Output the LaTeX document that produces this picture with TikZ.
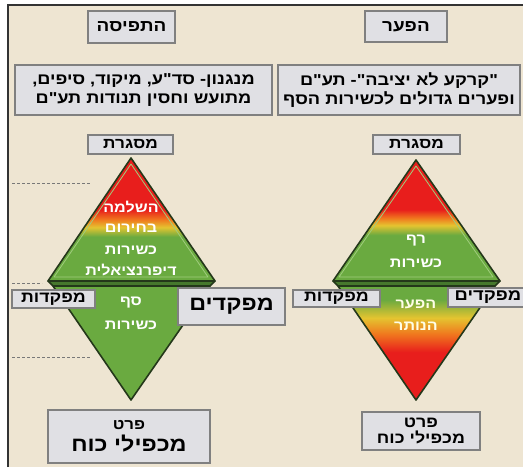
\documentclass[tikz,border=0pt]{standalone}
\usepackage{fontspec}
\newfontfamily\heb[Script=Hebrew,FakeStretch=1.15]{Liberation Sans}
\TeXXeTstate=1
\newcommand\rl[1]{\beginR#1\endR}
\newcommand\fs[1]{\fontsize{#1}{#1}\selectfont}
\definecolor{bg}{RGB}{238,229,210}
\definecolor{boxfill}{RGB}{224,224,228}
\definecolor{boxline}{RGB}{128,128,128}
\definecolor{rd}{RGB}{232,30,28}
\definecolor{orr}{RGB}{240,120,30}
\definecolor{ye}{RGB}{228,196,48}
\definecolor{gr}{RGB}{106,170,64}
\definecolor{grdark}{RGB}{70,120,45}
\definecolor{edge}{RGB}{36,56,26}
\definecolor{grlight}{RGB}{160,205,125}
\definecolor{dashc}{RGB}{120,120,120}
\pgfdeclareverticalshading{lup}{100bp}{color(0bp)=(gr); color(43bp)=(gr); color(46.8bp)=(ye); color(50bp)=(orr); color(54bp)=(rd); color(100bp)=(rd)}
\pgfdeclareverticalshading{rup}{100bp}{color(0bp)=(gr); color(44bp)=(gr); color(48bp)=(ye); color(51bp)=(orr); color(54.5bp)=(rd); color(100bp)=(rd)}
\pgfdeclareverticalshading{rdown}{100bp}{color(0bp)=(rd); color(46bp)=(rd); color(54bp)=(orr); color(61bp)=(ye); color(69bp)=(gr); color(100bp)=(gr)}
\tikzset{
  gbox/.style={draw=boxline, fill=boxfill, line width=1.3pt, inner sep=0pt, font=\heb\bfseries, text=black, align=center},
  dtext/.style={font=\heb\bfseries\fs{14}, text=white, inner sep=0pt, align=center},
  tri/.style={draw=edge, line width=1.6pt, line join=round},
  inner/.style={draw=grlight, line width=0.8pt, line join=round},
  guide/.style={draw=dashc, line width=0.9pt, dash pattern=on 3pt off 2pt}
}
\begin{document}
\begin{tikzpicture}[x=1pt,y=-1pt]
\useasboundingbox (0,0) rectangle (523,467);
\fill[white] (0,0) rectangle (523,467);
\fill[bg] (8,5) rectangle (523,467);
\draw[line width=1.2pt, black!80] (8,467) -- (8,5) -- (523,5);

% guide lines
\coordinate (g1a) at (12,183); \coordinate (g1b) at (90,183);
\coordinate (g2a) at (12,283); \coordinate (g2b) at (42,283);
\coordinate (g3a) at (12,357); \coordinate (g3b) at (90,357);
\draw[guide] (g1a) -- (g1b);
\draw[guide] (g2a) -- (g2b);
\draw[guide] (g3a) -- (g3b);

% ---------- left diamond ----------
\coordinate (LT) at (131,158);
\coordinate (LL) at (48,281);
\coordinate (LR) at (215,281);
\coordinate (LL2) at (53,286);
\coordinate (LR2) at (210,286);
\coordinate (LB) at (131,400);
\path[fill=gr] (LL2) -- (LR2) -- (LB) -- cycle;
\draw[tri] (LL2) -- (LR2) -- (LB) -- cycle;
\fill[grdark] (LL) -- (LR) -- (LR2) -- (LL2) -- cycle;
\draw[tri] (LL) -- (LR) -- (LR2) -- (LL2) -- cycle;
\path[shading=lup] (LT) -- (LR) -- (LL) -- cycle;
\draw[tri] (LT) -- (LR) -- (LL) -- cycle;
\draw[inner] (131,164) -- (208,277) -- (54,277) -- cycle;

\node[dtext] (l1) at (131,207) {\rl{השלמה}};
\node[dtext] (l2) at (131,228) {\rl{בחירום}};
\node[dtext] (l3) at (131,250) {\rl{כשירות}};
\node[dtext] (l4) at (131,270) {\rl{דיפרנציאלית}};
\node[dtext] (l5) at (131,303) {\rl{סף}};
\node[dtext] (l6) at (131,325) {\rl{כשירות}};

% ---------- right diamond ----------
\coordinate (RT) at (416,160);
\coordinate (RL) at (333,281);
\coordinate (RR) at (500,281);
\coordinate (RL2) at (338,286);
\coordinate (RR2) at (495,286);
\coordinate (RB) at (416,400);
\path[shading=rdown] (RL2) -- (RR2) -- (RB) -- cycle;
\draw[tri] (RL2) -- (RR2) -- (RB) -- cycle;
\fill[grdark] (RL) -- (RR) -- (RR2) -- (RL2) -- cycle;
\draw[tri] (RL) -- (RR) -- (RR2) -- (RL2) -- cycle;
\path[shading=rup] (RT) -- (RR) -- (RL) -- cycle;
\draw[tri] (RT) -- (RR) -- (RL) -- cycle;
\draw[inner] (416,166) -- (493,277) -- (339,277) -- cycle;

\node[dtext] (r1) at (416,241) {\rl{רף}};
\node[dtext] (r2) at (416,263) {\rl{כשירות}};
\node[dtext, text=white!90!yellow] (r3) at (416,304) {\rl{הפער}};
\node[dtext, text=white!90!yellow] (r4) at (416,326) {\rl{הנותר}};

% ---------- boxes ----------
\node[gbox, minimum width=87pt, minimum height=32pt, font=\heb\bfseries\fs{16.4}] (tafisa) at (131.5,27) {\rl{התפיסה}};
\node[gbox, minimum width=82pt, minimum height=31pt, font=\heb\bfseries\fs{16.4}] (paar) at (406,26.5) {\rl{הפער}};
\node[gbox, minimum width=257pt, minimum height=50pt, font=\heb\bfseries\fs{15.8}] (ldesc) at (143.5,90) {\rl{מנגנון- סד"ע, מיקוד, סיפים,}\\[3pt]\rl{מתועש וחסין תנודות תע"ם}};
\node[gbox, minimum width=242pt, minimum height=50pt, font=\heb\bfseries\fs{15.8}] (rdesc) at (399,90) {\rl{"קרקע לא יציבה"- תע"ם}\\[3pt]\rl{ופערים גדולים לכשירות הסף}};
\node[gbox, minimum width=85pt, minimum height=19pt, font=\heb\bfseries\fs{15}] (lmis) at (130.5,144.5) {\rl{מסגרת}};
\node[gbox, minimum width=87pt, minimum height=19pt, font=\heb\bfseries\fs{15}] (rmis) at (416.5,144.5) {\rl{מסגרת}};
\node[gbox, minimum width=83pt, minimum height=18pt, font=\heb\bfseries\fs{15.5}] (lmkt) at (53.5,299) {\rl{מפקדות}};
\node[gbox, minimum width=107pt, minimum height=37pt, font=\heb\bfseries\fs{20.3}] (lmkd) at (231.5,306.5) {\rl{מפקדים}};
\node[gbox, minimum width=87pt, minimum height=17pt, font=\heb\bfseries\fs{15.5}] (rmkt) at (336.5,298.5) {\rl{מפקדות}};
\node[gbox, minimum width=80pt, minimum height=19pt, font=\heb\bfseries\fs{16}] (rmkd) at (488,297.5) {\rl{מפקדים}};
\node[gbox, minimum width=162pt, minimum height=53pt] (lprat) at (129,436.5) {{\fs{14.7}\rl{פרט}}\\[4pt]{\fs{20.3}\rl{מכפילי כוח}}};
\node[gbox, minimum width=118pt, minimum height=38pt, font=\heb\bfseries\fs{15.5}] (rprat) at (421,431) {\rl{פרט}\\[0pt]\rl{מכפילי כוח}};
\end{tikzpicture}
\end{document}
